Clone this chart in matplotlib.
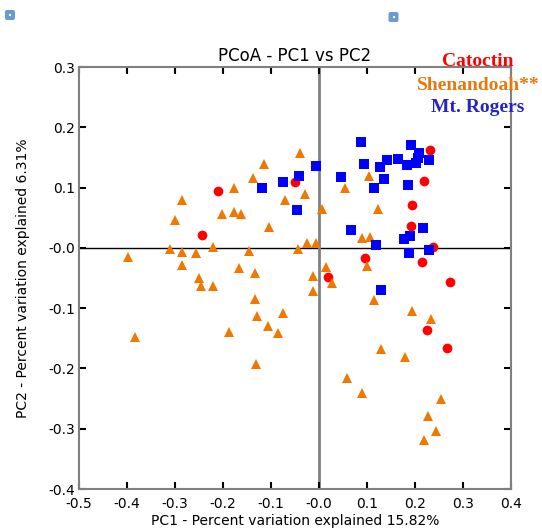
import numpy as np
import matplotlib
matplotlib.use('Agg')
from matplotlib import pyplot as plt
from matplotlib.patches import FancyBboxPatch

# PCoA coordinates per site (PC1, PC2)
catoctin_pc1 = [0.2313, -0.0500, 0.2194, 0.1938, 0.1910, 0.2381, 0.0958, 0.2140,
                0.0194, 0.2723, -0.2098, -0.2444, 0.2244, 0.2660]
catoctin_pc2 = [0.1620, 0.1095, 0.1106, 0.0718, 0.0360, 0.0022, -0.0161, -0.0237,
                -0.0481, -0.0559, 0.0945, 0.0216, -0.1355, -0.1653]

shenandoah_pc1 = [-0.3973, -0.3833, -0.2860, -0.2994, -0.3104, -0.2860, -0.2567, -0.2202,
                  -0.2848, -0.2500, -0.2458, -0.2215, -0.1781, -0.2015, -0.1781, -0.1631,
                  -0.1673, -0.1463, -0.1323, -0.1338, -0.1290, -0.1869, -0.1058, -0.0858,
                  -0.0748, -0.1313, -0.1144, -0.1381, -0.0698, -0.1052, -0.0394, 0.1042,
                  0.0548, -0.0292, 0.0067, 0.1233, 0.0890, 0.1063, -0.0256, -0.0063,
                  -0.0431, 0.0146, 0.1004, -0.0119, 0.0277, -0.0129, 0.1156, 0.1931,
                  0.2340, 0.1296, 0.1798, 0.0590, 0.0902, 0.2552, 0.2281, 0.2442, 0.2192]
shenandoah_pc2 = [-0.0154, -0.1484, 0.0788, 0.0469, -0.0025, -0.0061, -0.0085, 0.0013,
                  -0.0285, -0.0506, -0.0638, -0.0638, 0.0998, 0.0567, 0.0594, 0.0569,
                  -0.0335, -0.0053, -0.0410, -0.0850, -0.1123, -0.1393, -0.1297, -0.1405,
                  -0.1083, -0.1929, 0.1393, 0.1153, 0.0800, 0.0343, 0.1579, 0.1194,
                  0.0998, 0.0896, 0.0650, 0.0642, 0.0163, 0.0186, 0.0078, 0.0080,
                  -0.0017, -0.0312, -0.0304, -0.0473, -0.0582, -0.0718, -0.0868, -0.1045,
                  -0.1181, -0.1685, -0.1810, -0.2166, -0.2410, -0.2509, -0.2794, -0.3035, -0.3189]

rogers_pc1 = [0.0869, 0.1923, 0.2077, 0.2063, 0.1417, 0.1652, 0.0931, 0.1271, 0.1840,
              0.2027, 0.2292, -0.0069, -0.0410, 0.0458, -0.0744, -0.1181, 0.1360, 0.1152,
              0.1848, -0.0452, 0.0673, 0.2160, 0.1896, 0.1777, 0.1181, 0.1869, 0.2292, 0.1292]
rogers_pc2 = [0.1763, 0.1713, 0.1580, 0.1493, 0.1459, 0.1471, 0.1398, 0.1343, 0.1371,
              0.1405, 0.1459, 0.1355, 0.1189, 0.1182, 0.1095, 0.1000, 0.1149, 0.1000,
              0.1050, 0.0630, 0.0303, 0.0332, 0.0194, 0.0154, 0.0050, -0.0078, -0.0038, -0.0697]

site_names = ['Catoctin', 'Shenandoah**', 'Mt. Rogers']
site_colors = ['#ff0000', '#e8780e', '#2424c4']

fig = plt.figure(figsize=(5.42, 5.29), dpi=100)
ax = fig.add_axes([79 / 542, 1 - 489 / 529, (511 - 79) / 542, (489 - 67) / 529])

# origin lines
ax.axhline(0, color='black', lw=1.0, zorder=1)
ax.axvline(0, color='#808080', lw=2.0, zorder=1)

ax.plot(catoctin_pc1, catoctin_pc2, 'o', color='#ff0000', ms=7, mew=0, zorder=3)
ax.plot(shenandoah_pc1, shenandoah_pc2, '^', color='#f07800', ms=7.5, mew=0, zorder=3)
ax.plot(rogers_pc1, rogers_pc2, 's', color='#0000ff', ms=6.8, mew=0, zorder=4)

ax.set_xlim(-0.5, 0.4)
ax.set_ylim(-0.4, 0.3)
ax.set_xticks(np.arange(-0.5, 0.41, 0.1))
ax.set_yticks(np.arange(-0.4, 0.31, 0.1))
ax.xaxis.set_major_formatter(matplotlib.ticker.FormatStrFormatter('%.1f'))
ax.yaxis.set_major_formatter(matplotlib.ticker.FormatStrFormatter('%.1f'))
ax.tick_params(direction='in', length=5, width=1.5, color='black',
               top=True, right=True, labelsize=10)
ax.tick_params(axis='x', pad=6)
ax.tick_params(axis='y', pad=3)
for s in ax.spines.values():
    s.set_color('#808080')
    s.set_linewidth(1.5)

ax.set_title('PCoA - PC1 vs PC2', fontsize=12, pad=4)
ax.set_xlabel('PC1 - Percent variation explained 15.82%', fontsize=10, labelpad=2)
ax.set_ylabel('PC2 - Percent variation explained 6.31%', fontsize=10, labelpad=13)

# site key
for i, (name, col) in enumerate(zip(site_names, site_colors)):
    fig.text(478 / 542, 1 - (62 + 23 * i) / 529, name, color=col,
             family='Liberation Serif', weight='bold', fontsize=14,
             ha='center', va='center')

# small toolbar icons
for cx, cy in [(10, 15), (393.5, 17)]:
    icon = FancyBboxPatch((cx - 5, 529 - cy - 5), 10, 10,
                          boxstyle='round,pad=0,rounding_size=2',
                          transform=None, facecolor='#6a9bd0', edgecolor='none')
    fig.patches.append(icon)
    dot = FancyBboxPatch((cx - 1, 529 - cy - 1), 2, 2, boxstyle='square,pad=0',
                         transform=None, facecolor='white', edgecolor='none')
    fig.patches.append(dot)

fig.savefig('out.png', dpi=100)
